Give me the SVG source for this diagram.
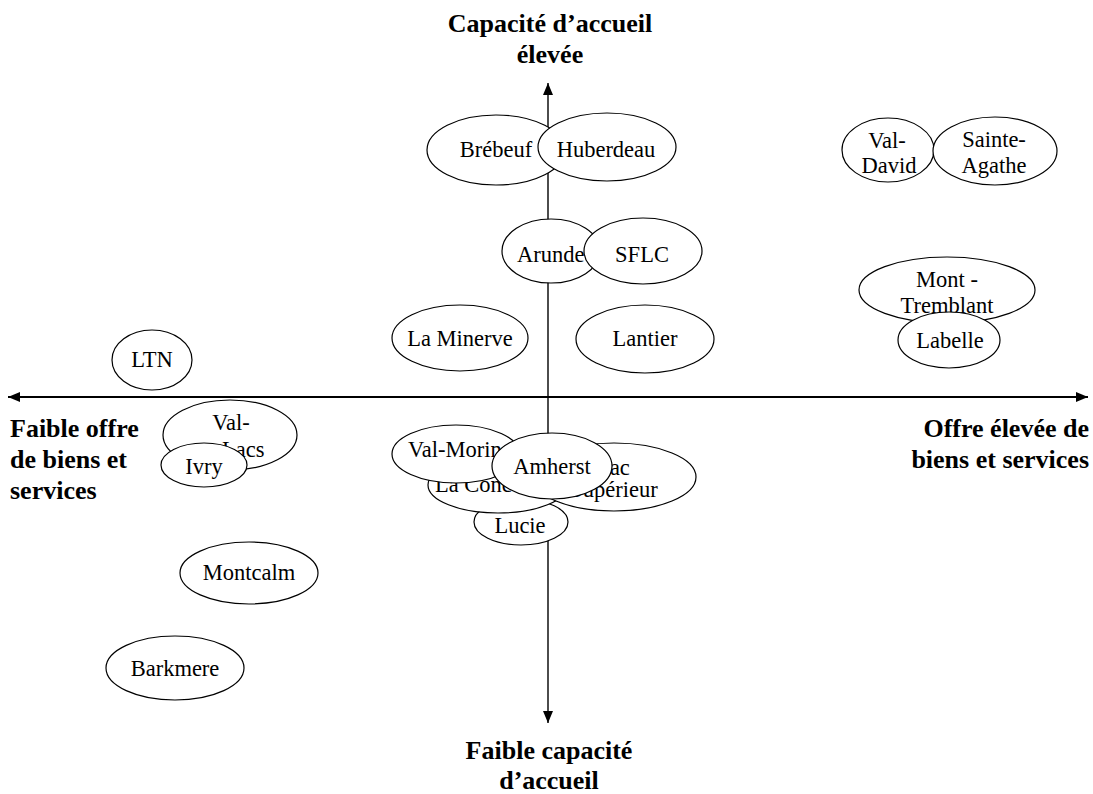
<svg xmlns="http://www.w3.org/2000/svg" width="1093" height="794" viewBox="0 0 1093 794">
<style>
ellipse{fill:#fff;stroke:#000;stroke-width:1.2}
.n{font-family:"Liberation Serif","Times New Roman",serif;font-size:22.5px;fill:#000;text-anchor:middle}
.s{text-anchor:start}
.b{font-family:"Liberation Serif","Times New Roman",serif;font-size:26px;font-weight:bold;fill:#000}
.ax{stroke:#000;fill:none}
</style>
<defs>
<marker id="ah" markerUnits="userSpaceOnUse" markerWidth="12" markerHeight="10" refX="12" refY="5" orient="auto-start-reverse">
<path d="M0,0 L12,5 L0,10 z" fill="#000"/>
</marker>
</defs>
<g id="connectors">
<line class="ax" x1="8" y1="397" x2="1088" y2="397" stroke-width="2" marker-start="url(#ah)" marker-end="url(#ah)"/>
<line class="ax" x1="548" y1="83" x2="548" y2="723" stroke-width="1.4" marker-start="url(#ah)" marker-end="url(#ah)"/>
</g>
<g id="labels">
<text class="b" x="550" y="32" text-anchor="middle">Capacité d’accueil</text>
<text class="b" x="550" y="63" text-anchor="middle">élevée</text>
<text class="b" x="549" y="759" text-anchor="middle">Faible capacité</text>
<text class="b" x="549" y="789" text-anchor="middle">d’accueil</text>
<text class="b" x="10" y="437">Faible offre</text>
<text class="b" x="10" y="468">de biens et</text>
<text class="b" x="10" y="499">services</text>
<text class="b" x="1089" y="437" text-anchor="end">Offre élevée de</text>
<text class="b" x="1089" y="468" text-anchor="end">biens et services</text>
</g>
<g id="ltn"><ellipse cx="152" cy="360" rx="40" ry="30"/><text class="n" x="152" y="367">LTN</text></g>
<g id="brebeuf"><ellipse cx="496" cy="150" rx="69" ry="35"/><text class="n" x="496" y="157">Brébeuf</text></g>
<g id="huberdeau"><ellipse cx="607" cy="147" rx="69" ry="34"/><text class="n" x="606" y="157">Huberdeau</text></g>
<g id="arundel"><ellipse cx="551" cy="251" rx="49" ry="32"/><text class="n s" x="517" y="262">Arunde</text></g>
<g id="sflc"><ellipse cx="643" cy="251" rx="59" ry="33"/><text class="n" x="642" y="262">SFLC</text></g>
<g id="la-minerve"><ellipse cx="460" cy="338" rx="68" ry="33"/><text class="n" x="460" y="346">La Minerve</text></g>
<g id="lantier"><ellipse cx="645" cy="339" rx="69" ry="34"/><text class="n" x="645" y="346">Lantier</text></g>
<g id="val-david"><ellipse cx="888" cy="150" rx="46" ry="32"/><text class="n" x="887" y="148">Val-</text><text class="n" x="889" y="173">David</text></g>
<g id="sainte-agathe"><ellipse cx="995" cy="151" rx="62" ry="34"/><text class="n" x="994" y="147">Sainte-</text><text class="n" x="994" y="173">Agathe</text></g>
<g id="mont-tremblant"><ellipse cx="947" cy="290" rx="88" ry="33"/><text class="n" x="947" y="287">Mont -</text><text class="n" x="947" y="313">Tremblant</text></g>
<g id="labelle"><ellipse cx="949" cy="340" rx="51" ry="28"/><text class="n" x="950" y="348">Labelle</text></g>
<g id="val-des-lacs"><ellipse cx="230" cy="435" rx="67" ry="35"/><text class="n" x="231" y="430">Val-</text><text class="n s" x="222" y="457">Lacs</text></g>
<g id="ivry"><ellipse cx="204" cy="465" rx="43" ry="22"/><text class="n" x="204" y="474">Ivry</text></g>
<g id="lucie"><ellipse cx="521" cy="522" rx="47" ry="23"/><text class="n" x="520" y="533">Lucie</text></g>
<g id="la-conception"><ellipse cx="498" cy="485" rx="70" ry="28"/><text class="n s" x="435" y="492">La Conc</text></g>
<g id="val-morin"><ellipse cx="456" cy="454" rx="64" ry="29"/><text class="n s" x="408" y="457">Val-Morin</text></g>
<g id="lac-superieur"><ellipse cx="614" cy="477" rx="82" ry="34"/><text class="n" x="613" y="475">Lac</text><text class="n" x="614" y="497">Supérieur</text></g>
<g id="amherst"><ellipse cx="552" cy="466" rx="60" ry="33"/><text class="n" x="552" y="474">Amherst</text></g>
<g id="montcalm"><ellipse cx="249" cy="573" rx="69" ry="31"/><text class="n" x="249" y="580">Montcalm</text></g>
<g id="barkmere"><ellipse cx="175" cy="668" rx="69" ry="32"/><text class="n" x="175" y="676">Barkmere</text></g>
</svg>
